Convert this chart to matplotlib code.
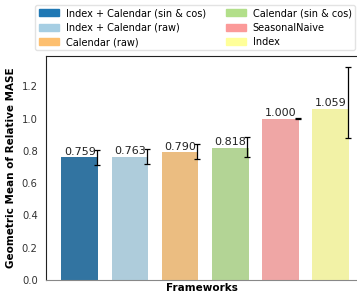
import colorsys
import numpy as np
import matplotlib
matplotlib.use("Agg")
import matplotlib.pyplot as plt
from matplotlib.patches import Patch

# data
frameworks = ['Index + Calendar (sin & cos)', 'Index + Calendar (raw)', 'Calendar (raw)',
              'Calendar (sin & cos)', 'SeasonalNaive', 'Index']
values = [0.759, 0.763, 0.790, 0.818, 1.000, 1.059]
err_low = [0.712, 0.716, 0.747, 0.763, 0.999, 0.879]
err_high = [0.805, 0.809, 0.840, 0.887, 1.001, 1.321]
colors = ['#1f78b4', '#a6cee3', '#fdbf6f', '#b2df8a', '#fb9a99', '#ffff99']


def desaturate(c, prop=0.75):
    r, g, b = matplotlib.colors.to_rgb(c)
    h, l, s = colorsys.rgb_to_hls(r, g, b)
    return colorsys.hls_to_rgb(h, l, s * prop)


plt.rcParams['font.family'] = ['DejaVu Sans']

fig = plt.figure(figsize=(3.57, 2.93), dpi=100)
ax = fig.add_axes([0.129, 0.044, 0.875, 0.765])

x = np.arange(len(values))
ax.bar(x, values, width=0.73, color=[desaturate(c) for c in colors])

# error bars sit on the right edge of each bar
lo = np.array(values) - np.array(err_low)
hi = np.array(err_high) - np.array(values)
ax.errorbar(x + 0.34, values, yerr=[lo, hi], fmt='none', ecolor='black',
            elinewidth=0.9, capsize=2, capthick=0.9)

for xi, v in zip(x, values):
    ax.text(xi, v + 0.003, f'{v:.3f}', ha='center', va='bottom', fontsize=8, color='#222222')

ax.set_xlim(-0.67, 5.55)
ax.set_ylim(0, 1.387)
ax.set_xticks([])
ax.set_yticks(np.arange(0, 1.21, 0.2))
ax.tick_params(axis='y', labelsize=7.2, length=0, pad=6, colors='#333333')
ax.set_xlabel('Frameworks', fontsize=7.5, fontweight='bold', labelpad=2)
ax.set_ylabel('Geometric Mean of Relative MASE', fontsize=7.5, fontweight='bold', labelpad=4)

for s in ['left', 'top']:
    ax.spines[s].set_color('#222222')
ax.spines['right'].set_visible(False)
ax.spines['bottom'].set_color('#888888')

handles = [Patch(color=c, label=f) for c, f in zip(colors, frameworks)]
fig.legend(handles=handles, ncol=2, fontsize=7, loc='upper center',
           bbox_to_anchor=(0.547, 1.0), frameon=True, edgecolor='#dddddd',
           handlelength=2.1, handleheight=0.7, handletextpad=0.7, columnspacing=2.0,
           labelspacing=0.45, borderpad=0.35, fancybox=True)

plt.savefig('out.png', dpi=100)
plt.close()
